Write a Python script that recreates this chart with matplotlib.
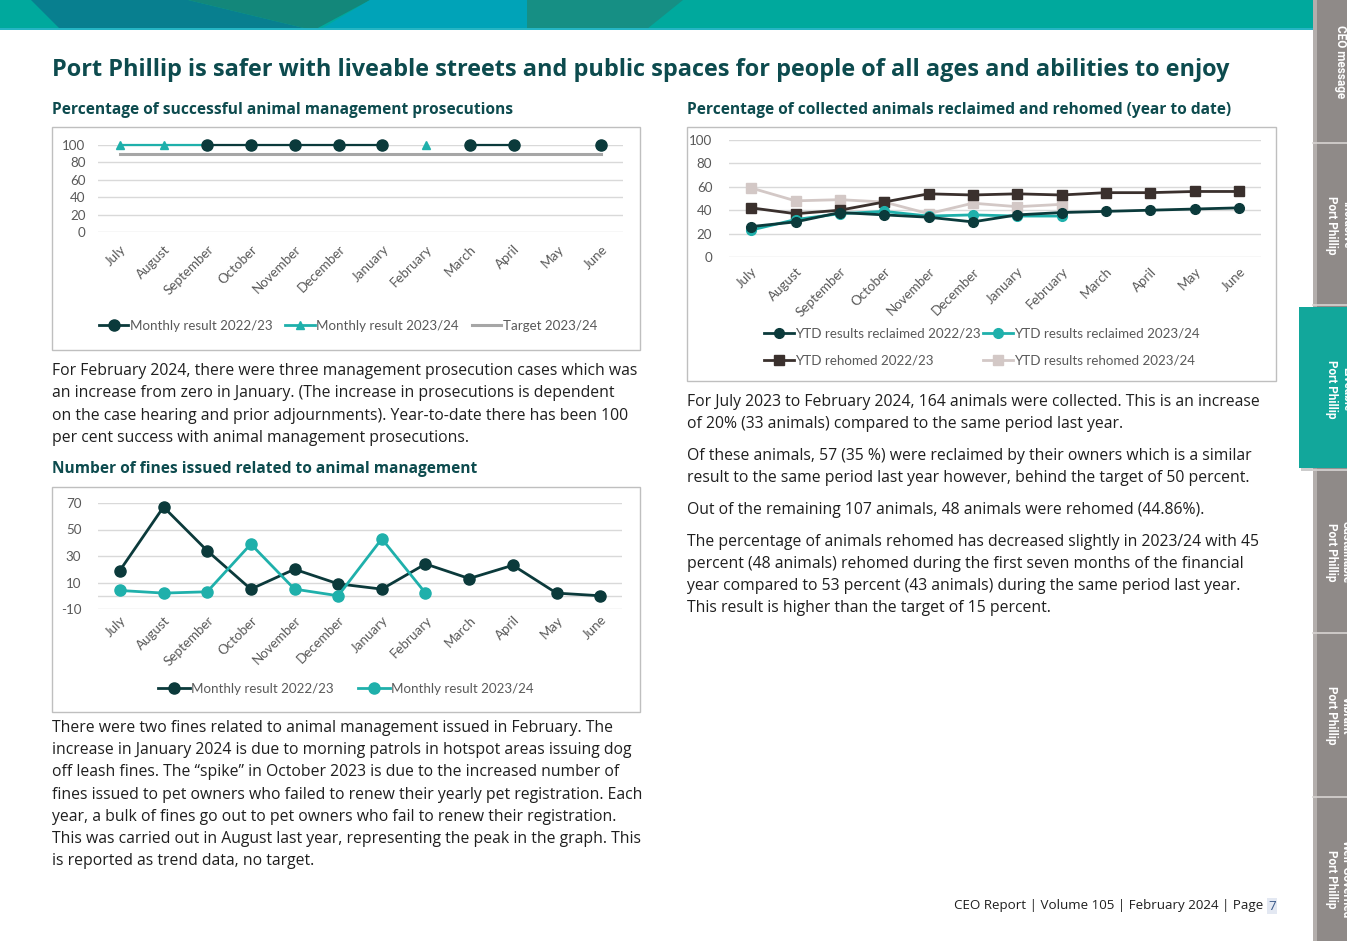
import numpy as np
import matplotlib
matplotlib.use("Agg")
import matplotlib.pyplot as plt
from matplotlib.patches import Polygon, Rectangle
from matplotlib.lines import Line2D

plt.rcParams["axes.unicode_minus"] = False

W, H = 1347, 941

# --- data ---
months = ["July", "August", "September", "October", "November", "December",
          "January", "February", "March", "April", "May", "June"]
nan = np.nan

# prosecutions (%)
pros_2223 = [nan, nan, 100, 100, 100, 100, 100, nan, 100, 100, nan, 100]
pros_2324 = [100, 100, 100, nan, nan, nan, nan, 100, nan, nan, nan, nan]
pros_target = [90] * 12

# fines issued
fines_2223 = [19, 67, 34, 5, 20, 9, 5, 24, 13, 23, 2, 0]
fines_2324 = [4, 2, 3, 39, 5, 0, 43, 2, nan, nan, nan, nan]

# reclaimed / rehomed (%)
recl_2223 = [26, 30, 38, 36, 34, 30, 36, 38, 39, 40, 41, 42]
recl_2324 = [23, 32, 37, 39, 35, 36, 35, 35, nan, nan, nan, nan]
reho_2223 = [42, 37, 40, 47, 54, 53, 54, 53, 55, 55, 56, 56]
reho_2324 = [59, 48, 49, 47, 37, 46, 43, 45, nan, nan, nan, nan]

DARK = "#0b3a3b"
TEAL = "#1fb0ab"
GREY_T = "#a6a6a6"
BROWN = "#3a302d"
LIGHT = "#d3c8c6"
HEAD = "#0d4b4e"
AXTXT = "#595959"
GRID = "#d9d9d9"

BODY_FONT = ["Open Sans", "DejaVu Sans"]
CHART_FONT = ["Lato", "DejaVu Sans"]


def px_rect(x0, y0, x1, y1):
    return [x0 / W, 1 - y1 / H, (x1 - x0) / W, (y1 - y0) / H]


fig = plt.figure(figsize=(W / 100, H / 100), dpi=100)
bg = fig.add_axes([0, 0, 1, 1], zorder=0)
bg.set_xlim(0, W)
bg.set_ylim(H, 0)
bg.axis("off")

# --- banner ---
bg.add_patch(Rectangle((0, 0), 1313, 29, color="#00a99d", lw=0))
bg.add_patch(Polygon([(31, 0), (188, 0), (308, 29), (60, 29)], color="#087f8f", lw=0))
bg.add_patch(Polygon([(188, 0), (370, 0), (316, 29), (308, 29)], color="#13877a", lw=0))
bg.add_patch(Polygon([(370, 0), (527, 0), (527, 29), (321, 29)], color="#00a3b8", lw=0))
bg.add_patch(Polygon([(527, 0), (683, 0), (647, 29), (527, 29)], color="#168f84", lw=0))
bg.add_patch(Rectangle((0, 28), 1313, 2, color="#26b5c4", lw=0))

# --- side tabs ---
bg.add_patch(Rectangle((1313, 0), 34, H, color="#8f8a88", lw=0))
bg.add_patch(Rectangle((1313, 0), 4, H, color="#b3aeac", lw=0))
for yy in [143, 305, 470, 633, 797]:
    bg.plot([1313, 1347], [yy, yy], color="#d8d4d2", lw=1.2)
bg.add_patch(Rectangle((1301, 309), 46, 162, color="#9a9a9a", alpha=0.5, lw=0))
bg.add_patch(Rectangle((1299, 307), 48, 161, color="#12a79b", lw=0))
tabs = [("CEO message", 62), ("Inclusive\nPort Phillip", 225), ("Liveable\nPort Phillip", 389),
        ("Sustainable\nPort Phillip", 552), ("Vibrant\nPort Phillip", 715),
        ("Well-Governed\nPort Phillip", 879)]
for i, (lab, yc) in enumerate(tabs):
    xc = 1340 if i == 0 else 1339
    bg.text(xc, yc, lab, rotation=-90, ha="center", va="center", color="white",
            fontsize=8.5, fontweight="bold", family=["Roboto", "DejaVu Sans"],
            linespacing=1.15, clip_on=True)

# --- headings ---
bg.text(52, 70, "Port Phillip is safer with liveable streets and public spaces for people of all ages and abilities to enjoy",
        fontsize=16.9, fontweight="bold", color=HEAD, va="center", family=BODY_FONT)
bg.text(52, 110, "Percentage of successful animal management prosecutions",
        fontsize=11.2, fontweight="bold", color=HEAD, va="center", family=BODY_FONT)
bg.text(52, 469, "Number of fines issued related to animal management",
        fontsize=11.2, fontweight="bold", color=HEAD, va="center", family=BODY_FONT)
bg.text(687, 110, "Percentage of collected animals reclaimed and rehomed (year to date)",
        fontsize=11.2, fontweight="bold", color=HEAD, va="center", family=BODY_FONT)

# --- body text ---
para1 = ["For February 2024, there were three management prosecution cases which was",
         "an increase from zero in January. (The increase in prosecutions is dependent",
         "on the case hearing and prior adjournments). Year-to-date there has been 100",
         "per cent success with animal management prosecutions."]
para2 = ["There were two fines related to animal management issued in February. The",
         "increase in January 2024 is due to morning patrols in hotspot areas issuing dog",
         "off leash fines. The \u201cspike\u201d in October 2023 is due to the increased number of",
         "fines issued to pet owners who failed to renew their yearly pet registration. Each",
         "year, a bulk of fines go out to pet owners who fail to renew their registration.",
         "This was carried out in August last year, representing the peak in the graph. This",
         "is reported as trend data, no target."]
right = [("For July 2023 to February 2024, 164 animals were collected. This is an increase", 401),
         ("of 20% (33 animals) compared to the same period last year.", 423),
         ("Of these animals, 57 (35 %) were reclaimed by their owners which is a similar", 455),
         ("result to the same period last year however, behind the target of 50 percent.", 477),
         ("Out of the remaining 107 animals, 48 animals were rehomed (44.86%).", 509),
         ("The percentage of animals rehomed has decreased slightly in 2023/24 with 45", 541),
         ("percent (48 animals) rehomed during the first seven months of the financial", 563),
         ("year compared to 53 percent (43 animals) during the same period last year.", 585),
         ("This result is higher than the target of 15 percent.", 607)]

BODY_SIZE = 11.35
for i, line in enumerate(para1):
    bg.text(52, 371 + i * 22.3, line, fontsize=BODY_SIZE, color="#1f1f1f", va="center", family=BODY_FONT)
for i, line in enumerate(para2):
    bg.text(52, 728 + i * 22.2, line, fontsize=BODY_SIZE, color="#1f1f1f", va="center", family=BODY_FONT)
for line, yy in right:
    bg.text(687, yy + 1, line, fontsize=BODY_SIZE, color="#1f1f1f", va="center", family=BODY_FONT)

bg.text(1267, 906, "CEO Report | Volume 105 | February 2024 | Page ", fontsize=9.6, color="#1f1f1f",
        va="center", ha="right", family=BODY_FONT)
bg.text(1268, 906, "7", fontsize=9.6, color="#3a5a8a", va="center", ha="left", family=BODY_FONT,
        bbox=dict(boxstyle="square,pad=0.1", fc="#e3e8f2", ec="none"))

# --- chart frames ---
for (x0, y0, x1, y1) in [(52, 127, 640, 350), (52, 487, 640, 712), (687, 127, 1276, 381)]:
    bg.add_patch(Rectangle((x0, y0), x1 - x0, y1 - y0, fc="white", ec="#bfbfbf", lw=1))


def style_axes(ax, yticks):
    ax.set_facecolor("none")
    for s in ax.spines.values():
        s.set_visible(False)
    ax.set_yticks(yticks)
    ax.yaxis.grid(True, color=GRID, lw=1)
    ax.set_axisbelow(True)
    ax.tick_params(length=0, colors=AXTXT, labelsize=9.6)
    ax.set_xticks(range(12))
    ax.set_xticklabels(months, rotation=45, ha="right", rotation_mode="anchor")
    ax.set_xlim(-0.5, 11.5)
    for t in ax.get_xticklabels() + ax.get_yticklabels():
        t.set_family(CHART_FONT)
        t.set_color(AXTXT)


x = np.arange(12)

# chart 1: prosecutions
ax1 = fig.add_axes(px_rect(98, 145, 623, 232), zorder=2)
style_axes(ax1, [0, 20, 40, 60, 80, 100])
ax1.set_ylim(0, 100)
ax1.tick_params(axis="y", pad=9)
ax1.tick_params(axis="x", pad=8)
ax1.plot(x, pros_target, color=GREY_T, lw=2.2, clip_on=False, zorder=2)
ax1.plot(x, pros_2324, color=TEAL, lw=1.6, marker="^", ms=6, clip_on=False, zorder=3)
ax1.plot(x, pros_2223, color=DARK, lw=1.6, marker="o", ms=8, clip_on=False, zorder=4)
h1 = [Line2D([], [], color=DARK, lw=2, marker="o", ms=8),
      Line2D([], [], color=TEAL, lw=2, marker="^", ms=6),
      Line2D([], [], color=GREY_T, lw=2.2)]
fig.legend(h1, ["Monthly result 2022/23", "Monthly result 2023/24", "Target 2023/24"],
           loc="center", bbox_to_anchor=(348 / W, 1 - 326 / H), ncol=3, frameon=False,
           handlelength=2.2, handletextpad=0.1, columnspacing=1.0,
           prop={"family": CHART_FONT, "size": 9.6}, labelcolor=AXTXT)

# chart 2: fines
ax2 = fig.add_axes(px_rect(98, 503, 622, 609), zorder=2)
style_axes(ax2, [-10, 10, 30, 50, 70])
ax2.set_ylim(-10, 70)
ax2.axhline(0, color=GRID, lw=1, zorder=1)
ax2.tick_params(axis="y", pad=12)
ax2.plot(x, fines_2223, color=DARK, lw=2, marker="o", ms=8, clip_on=False, zorder=3)
ax2.plot(x, fines_2324, color=TEAL, lw=2, marker="o", ms=8, clip_on=False, zorder=4)
h2 = [Line2D([], [], color=DARK, lw=2, marker="o", ms=8),
      Line2D([], [], color=TEAL, lw=2, marker="o", ms=8)]
fig.legend(h2, ["Monthly result 2022/23", "Monthly result 2023/24"],
           loc="center", bbox_to_anchor=(346 / W, 1 - 689 / H), ncol=2, frameon=False,
           handlelength=2.4, handletextpad=0.1, columnspacing=1.8,
           prop={"family": CHART_FONT, "size": 9.6}, labelcolor=AXTXT)

# chart 3: reclaimed / rehomed
ax3 = fig.add_axes(px_rect(729, 140, 1261, 257), zorder=2)
style_axes(ax3, [0, 20, 40, 60, 80, 100])
ax3.set_ylim(0, 100)
ax3.tick_params(axis="y", pad=12)
ax3.tick_params(axis="x", pad=6)
ax3.plot(x, reho_2324, color=LIGHT, lw=2, marker="s", ms=7, zorder=3)
ax3.plot(x, reho_2223, color=BROWN, lw=2, marker="s", ms=7, zorder=4)
ax3.plot(x, recl_2324, color=TEAL, lw=2, marker="o", ms=7, zorder=5)
ax3.plot(x, recl_2223, color=DARK, lw=2, marker="o", ms=7, zorder=6)
a = Line2D([], [], color=DARK, lw=2, marker="o", ms=7)
b = Line2D([], [], color=TEAL, lw=2, marker="o", ms=7)
c = Line2D([], [], color=BROWN, lw=2, marker="s", ms=7)
d = Line2D([], [], color=LIGHT, lw=2, marker="s", ms=7)
fig.legend([a, c, b, d], ["YTD results reclaimed 2022/23", "YTD rehomed 2022/23",
                          "YTD results reclaimed 2023/24", "YTD results rehomed 2023/24"],
           loc="center", bbox_to_anchor=(982 / W, 1 - 347 / H), ncol=2, frameon=False,
           handlelength=2.2, handletextpad=0.1, columnspacing=0.2, labelspacing=1.15,
           prop={"family": CHART_FONT, "size": 9.6}, labelcolor=AXTXT)

fig.savefig("out.png", dpi=100)
